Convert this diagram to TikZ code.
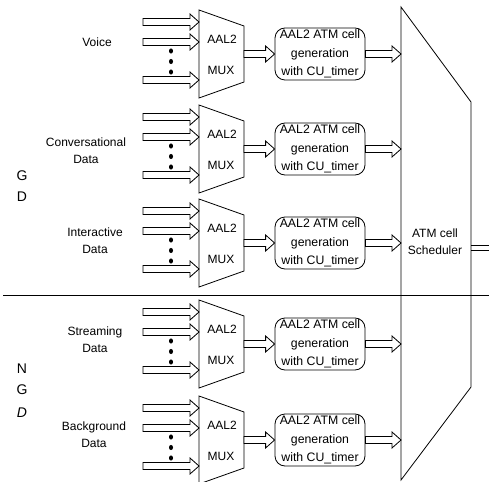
\documentclass[tikz,border=0pt]{standalone}
\usepackage{fontspec}
\setmainfont{Liberation Sans}
\usetikzlibrary{calc}
\newcommand\blockarrow[2]{\draw[blk] ($(#1)+(0,-3.5)$) -- ($(#2)+(-9,-3.5)$) -- ($(#2)+(-9,-8)$) -- (#2) -- ($(#2)+(-9,8)$) -- ($(#2)+(-9,3.5)$) -- ($(#1)+(0,3.5)$) -- cycle;}
\begin{document}
\begin{tikzpicture}[x=1pt,y=-1pt,
  ln/.style={line width=0.9pt, black},
  blk/.style={line width=0.8pt, fill=white, line join=miter},
  muxshape/.style={line width=0.8pt},
  cellbox/.style={draw, line width=0.8pt, rounded corners=10pt, minimum width=90pt, minimum height=52pt, inner sep=0pt, align=center, font=\fontsize{12.3}{18.5}\selectfont},
  lbl/.style={align=center, inner sep=0pt, font=\fontsize{12}{17}\selectfont},
  big/.style={inner sep=0pt, font=\fontsize{14}{16}\selectfont},
  dotm/.style={fill=black, draw=none}]
\useasboundingbox (0,0) rectangle (489,481);
% rows
\foreach \c/\i in {54/1,149/2,243/3,344/4,440/5}{
  \draw[muxshape] (199,\c-44) -- (244,\c-28) -- (244,\c+28) -- (199,\c+44) -- cycle;
  \node[lbl] (aal\i) at (222,\c-15) {AAL2};
  \node[lbl] (mux\i) at (221,\c+16) {MUX};
  \coordinate (ia\i) at (143,\c-32); \coordinate (ta\i) at (199,\c-32);
  \coordinate (ib\i) at (143,\c-12); \coordinate (tb\i) at (199,\c-12);
  \coordinate (ic\i) at (143,\c+26); \coordinate (tc\i) at (199,\c+26);
  \blockarrow{ia\i}{ta\i}
  \blockarrow{ib\i}{tb\i}
  \blockarrow{ic\i}{tc\i}
  \fill[dotm] (171,\c-3) ellipse (2pt and 2.6pt);
  \fill[dotm] (171,\c+7.5) ellipse (2pt and 2.6pt);
  \fill[dotm] (171,\c+18) ellipse (2pt and 2.6pt);
  \coordinate (mo\i) at (244,\c);
  \node[cellbox] (cell\i) at (320,\c) {AAL2 ATM cell\\generation\\with CU\_timer};
  \blockarrow{mo\i}{cell\i.west}
  \coordinate (si\i) at (401,\c);
  \blockarrow{cell\i.east}{si\i}
}
% scheduler
\draw[muxshape] (401,7) -- (471,102) -- (471,387) -- (401,480) -- cycle;
\node[lbl] (sched) at (435,242) {ATM cell\\Scheduler};
\coordinate (so1) at (471,245); \coordinate (se1) at (489,245);
\coordinate (so2) at (471,250); \coordinate (se2) at (489,250);
\draw[line width=0.8pt] (so1) -- (se1) (so2) -- (se2);
% divider
\coordinate (dl) at (3,295); \coordinate (dr) at (489,295);
\draw[line width=1pt] (dl) -- (dr);
% labels
\node[lbl] (voice) at (97,42) {Voice};
\node[lbl] (conv) at (86,151) {Conversational\\Data};
\node[lbl] (inter) at (95,241) {Interactive\\Data};
\node[lbl] (strm) at (95,340) {Streaming\\Data};
\node[lbl] (bg) at (94,435) {Background\\Data};
\node[big] (g1) at (22,176) {G};
\node[big] (d1) at (22,197) {D};
\node[big] (n2) at (22,369) {N};
\node[big] (g2) at (22,390) {G};
\node[big] (d2) at (22,413) {\itshape D};
\end{tikzpicture}
\end{document}
